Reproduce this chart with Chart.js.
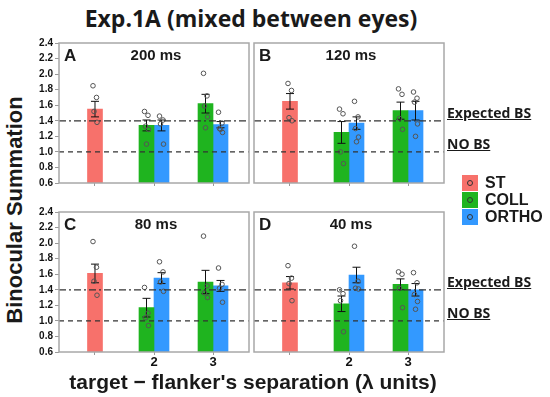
<!DOCTYPE html>
<html>
<head>
<meta charset="utf-8">
<script src="https://cdn.jsdelivr.net/npm/chart.js@4.4.1/dist/chart.umd.min.js"></script>
<style>
  body { margin: 0; background: #fff; }
  #page { position: relative; width: 550px; height: 397px; overflow: hidden; font-family: "Liberation Sans", Arial, sans-serif; color: #1a1a1a; }
  .t { position: absolute; white-space: nowrap; font-weight: bold; }
  canvas { position: absolute; }
  .lg { position: absolute; left: 462px; height: 16px; font: bold 16px "Liberation Sans", Arial, sans-serif; line-height: 16px; }
  .lg span.sw { display: inline-block; width: 16px; height: 16px; vertical-align: top; position: relative; margin-right: 7px; }
  .lg span.sw i { position: absolute; left: 5px; top: 5px; width: 4px; height: 4px; border: 1px solid #333; border-radius: 50%; }
  .ref { font: bold 14px "Open Sans", sans-serif; text-decoration: underline; }
</style>
</head>
<body>
<div id="page">
  <div class="t" style="left:0;width:502px;text-align:center;top:2px;font:bold 23px 'Open Sans',sans-serif;">Exp.1A (mixed between eyes)</div>
  <div class="t" style="left:15px;top:210px;transform:translate(-50%,-50%) rotate(-90deg);font-size:22px;">Binocular Summation</div>

  <canvas id="cA" width="225" height="168" style="left:29px;top:35px;"></canvas>
  <canvas id="cB" width="225" height="168" style="left:224px;top:35px;"></canvas>
  <canvas id="cC" width="225" height="168" style="left:29px;top:204px;"></canvas>
  <canvas id="cD" width="225" height="168" style="left:224px;top:204px;"></canvas>

  <div id="labels"></div>

  <div class="t ref" style="left:447px;top:103px;">Expected BS</div>
  <div class="t ref" style="left:447px;top:134px;">NO BS</div>
  <div class="t ref" style="left:447px;top:272px;">Expected BS</div>
  <div class="t ref" style="left:447px;top:303px;">NO BS</div>

  <div id="legend"></div>

  <div class="t" style="left:0;width:506px;text-align:center;top:370px;font-size:21px;">target − flanker's separation (λ units)</div>
</div>

<script>
// x positions: 1 = ST (no label), 2 and 3 = separations
const categories = [1, 2, 3];
const xTickLabels = ['', '2', '3'];
const yTicks = [0.6, 0.8, 1.0, 1.2, 1.4, 1.6, 1.8, 2.0, 2.2, 2.4];

const panelLetters = ['A', 'B', 'C', 'D'];
const durations = ['200 ms', '120 ms', '80 ms', '40 ms'];
const seriesNames = ['ST', 'COLL', 'ORTHO'];
const seriesColors = ['#f7716b', '#1fb41f', '#3399ff'];

// means and SEM per panel (ST at x=1; COLL/ORTHO at x=2,3)
const stMean = [1.55, 1.65, 1.61, 1.49];
const stSem = [0.10, 0.10, 0.12, 0.08];
const collMean = [[1.34, 1.62], [1.25, 1.53], [1.17, 1.50], [1.22, 1.47]];
const collSem = [[0.07, 0.12], [0.14, 0.11], [0.12, 0.15], [0.10, 0.07]];
const orthoMean = [[1.34, 1.35], [1.37, 1.53], [1.55, 1.45], [1.59, 1.40]];
const orthoSem = [[0.07, 0.04], [0.08, 0.12], [0.07, 0.07], [0.10, 0.08]];

// individual observers
const stPoints = [
  [1.85, 1.70, 1.52, 1.38],
  [1.88, 1.79, 1.44, 1.40],
  [2.02, 1.69, 1.51, 1.33],
  [1.71, 1.55, 1.48, 1.26]
];
const collPoints = [
  [[1.52, 1.47, 1.33, 1.29, 1.10], [2.01, 1.72, 1.59, 1.45, 1.31]],
  [[1.55, 1.49, 1.00, 0.85], [1.81, 1.74, 1.43, 1.29]],
  [[1.43, 1.10, 1.04, 0.94], [2.09, 1.45, 1.36, 1.30]],
  [[1.40, 1.35, 1.26, 0.86], [1.63, 1.60, 1.42, 1.17]]
];
const orthoPoints = [
  [[1.46, 1.41, 1.36, 1.10], [1.51, 1.37, 1.30, 1.25, 1.29]],
  [[1.65, 1.45, 1.30, 1.19, 1.13], [1.77, 1.69, 1.64, 1.36, 1.20]],
  [[1.76, 1.63, 1.50, 1.38], [1.68, 1.47, 1.42, 1.24]],
  [[1.96, 1.51, 1.42, 1.41], [1.62, 1.49, 1.34, 1.25, 1.15]]
];

const expectedBS = 1.4;
const noBS = 1.0;

const FONT = '"Liberation Sans", Arial, sans-serif';
const jitter = [-2, 1.5, -1, 2, 0];

// error bars, dots, reference lines and the box around each panel
const panelDecor = {
  id: 'panelDecor',
  afterDatasetsDraw(chart) {
    const ctx = chart.ctx;
    const y = chart.scales.y;
    const area = chart.chartArea;
    ctx.save();
    chart.data.datasets.forEach((ds, di) => {
      const meta = chart.getDatasetMeta(di);
      meta.data.forEach((bar, i) => {
        const v = ds.data[i].y;
        if (v == null) return;
        const cx = bar.x;
        const top = y.getPixelForValue(v + ds.sem[i]);
        const bot = y.getPixelForValue(v - ds.sem[i]);
        ctx.strokeStyle = '#111';
        ctx.lineWidth = 1;
        ctx.beginPath();
        ctx.moveTo(cx, top); ctx.lineTo(cx, bot);
        ctx.moveTo(cx - 4, top); ctx.lineTo(cx + 4, top);
        ctx.moveTo(cx - 4, bot); ctx.lineTo(cx + 4, bot);
        ctx.stroke();
        ctx.strokeStyle = '#555';
        ds.points[i].forEach((p, k) => {
          ctx.beginPath();
          ctx.arc(cx + jitter[k % jitter.length], y.getPixelForValue(p), 2.3, 0, Math.PI * 2);
          ctx.stroke();
        });
      });
    });
    // reference lines
    ctx.strokeStyle = '#333';
    ctx.lineWidth = 1.2;
    [[expectedBS, [7, 3, 2, 3]], [noBS, [5, 4]]].forEach(([val, dash]) => {
      const py = y.getPixelForValue(val);
      ctx.setLineDash(dash);
      ctx.beginPath();
      ctx.moveTo(area.left, py); ctx.lineTo(area.right, py);
      ctx.stroke();
    });
    ctx.setLineDash([]);
    ctx.strokeStyle = '#a8a8a8';
    ctx.lineWidth = 1.5;
    ctx.strokeRect(area.left, area.top, area.right - area.left, area.bottom - area.top);
    ctx.restore();
  }
};

function makePanel(id, p, showY, showX) {
  const datasets = [
    {
      label: seriesNames[0],
      data: categories.map((c, i) => ({ x: c, y: i === 0 ? stMean[p] : null })),
      sem: categories.map((c, i) => i === 0 ? stSem[p] : 0),
      points: categories.map((c, i) => i === 0 ? stPoints[p] : []),
      backgroundColor: seriesColors[0]
    },
    {
      label: seriesNames[1],
      data: categories.map((c, i) => ({ x: c, y: i === 0 ? null : collMean[p][i - 1] })),
      sem: categories.map((c, i) => i === 0 ? 0 : collSem[p][i - 1]),
      points: categories.map((c, i) => i === 0 ? [] : collPoints[p][i - 1]),
      backgroundColor: seriesColors[1]
    },
    {
      label: seriesNames[2],
      data: categories.map((c, i) => ({ x: c, y: i === 0 ? null : orthoMean[p][i - 1] })),
      sem: categories.map((c, i) => i === 0 ? 0 : orthoSem[p][i - 1]),
      points: categories.map((c, i) => i === 0 ? [] : orthoPoints[p][i - 1]),
      backgroundColor: seriesColors[2]
    }
  ];

  new Chart(document.getElementById(id), {
    type: 'bar',
    data: { datasets },
    options: {
      responsive: false,
      animation: false,
      devicePixelRatio: 1,
      layout: { padding: { left: 0, right: 5, top: 8, bottom: 0 } },
      datasets: { bar: { barThickness: 15, skipNull: true, borderWidth: 0 } },
      plugins: { legend: { display: false }, tooltip: { enabled: false } },
      scales: {
        x: {
          type: 'linear',
          min: 0.39,
          max: 3.61,
          offset: false,
          afterBuildTicks: s => { s.ticks = categories.map(v => ({ value: v })); },
          afterFit: s => { s.height = 20; },
          ticks: {
            autoSkip: false,
            maxRotation: 0,
            padding: 0,
            color: '#111',
            font: { family: FONT, size: 13, weight: 'bold' },
            callback: (v, i) => showX ? xTickLabels[i] : ''
          },
          grid: { drawOnChartArea: false, offset: false, tickLength: 3, color: '#999' },
          border: { display: false }
        },
        y: {
          min: 0.6,
          max: 2.4,
          afterBuildTicks: s => { s.ticks = yTicks.map(v => ({ value: v })); },
          afterFit: s => { s.width = 30; },
          ticks: {
            display: showY,
            padding: 2,
            color: '#111',
            font: { family: FONT, size: 10, weight: 'bold' },
            callback: v => v.toFixed(1)
          },
          grid: { display: showY, drawOnChartArea: false, tickLength: 4, color: '#999' },
          border: { display: false }
        }
      }
    },
    plugins: [panelDecor]
  });
}

makePanel('cA', 0, true, false);
makePanel('cB', 1, false, false);
makePanel('cC', 2, true, true);
makePanel('cD', 3, false, true);

// panel letters and durations
const panelLeft = [59, 254, 59, 254];
const panelTop = [43, 43, 212, 212];
let html = '';
panelLetters.forEach((l, i) => {
  html += `<div class="t" style="left:${panelLeft[i] + 5}px;top:${panelTop[i] + 3}px;font-size:17px;">${l}</div>`;
  html += `<div class="t" style="left:${panelLeft[i] + 2}px;width:190px;text-align:center;top:${panelTop[i] + 3}px;font-size:15px;">${durations[i]}</div>`;
});
document.getElementById('labels').innerHTML = html;

let lg = '';
seriesNames.forEach((n, i) => {
  lg += `<div class="lg" style="top:${175 + i * 17}px;"><span class="sw" style="background:${seriesColors[i]}"><i></i></span>${n}</div>`;
});
document.getElementById('legend').innerHTML = lg;
</script>
</body>
</html>
